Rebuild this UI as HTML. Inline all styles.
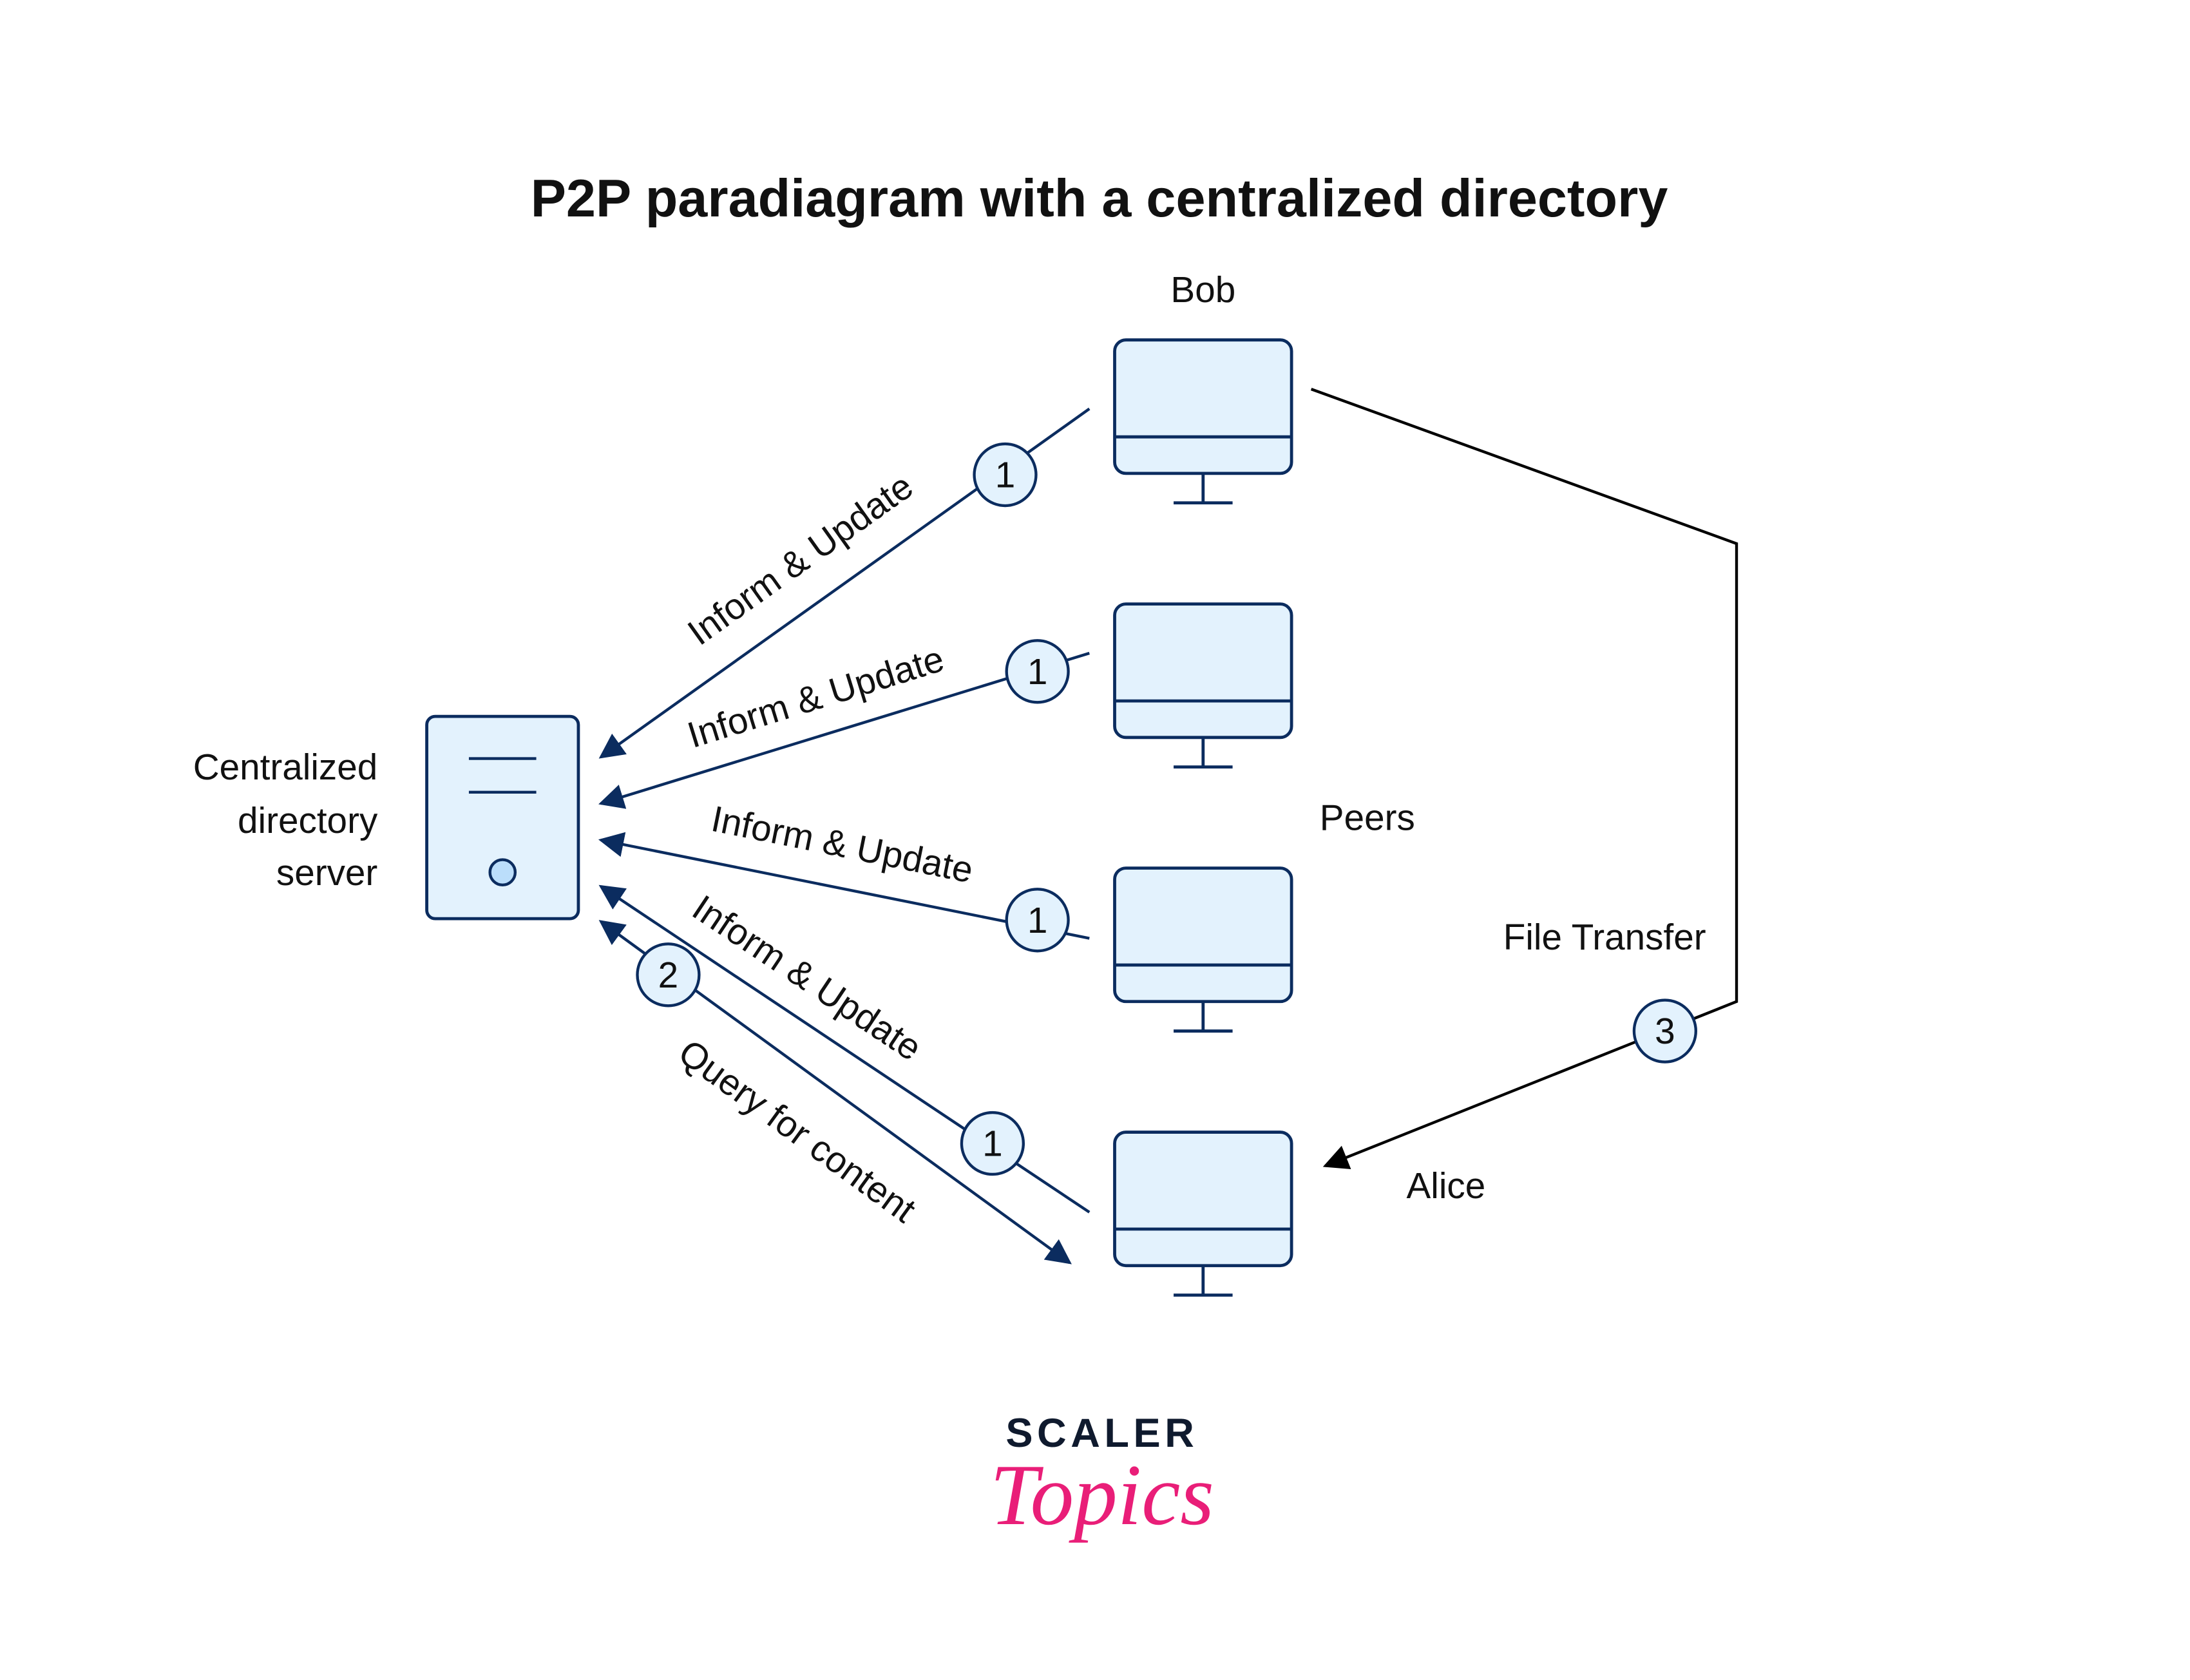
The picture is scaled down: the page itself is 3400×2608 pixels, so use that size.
<!DOCTYPE html>
<html><head><meta charset="utf-8"><style>
html,body{margin:0;padding:0;background:#fff;}
svg{display:block;}
text{font-family:"Liberation Sans",sans-serif;fill:#111;}
</style></head><body>
<svg width="3400" height="2608" viewBox="0 0 1560 1196" preserveAspectRatio="none" xmlns="http://www.w3.org/2000/svg">
<defs>
<marker id="a" viewBox="0 0 10 10" refX="9" refY="5" markerWidth="7" markerHeight="7" orient="auto-start-reverse" markerUnits="userSpaceOnUse" >
<path d="M0,0 L10,5 L0,10 z" fill="#0b2c5f"/></marker>
<marker id="ab" viewBox="0 0 10 10" refX="9" refY="5" markerWidth="18" markerHeight="18" orient="auto" markerUnits="userSpaceOnUse"><path d="M0,0 L10,5 L0,10 z" fill="#000"/></marker>
<marker id="an" viewBox="0 0 10 10" refX="9" refY="5" markerWidth="18" markerHeight="18" orient="auto-start-reverse" markerUnits="userSpaceOnUse"><path d="M0,0 L10,5 L0,10 z" fill="#0b2c5f"/></marker>
<g id="mon">
<rect x="794" y="0" width="126" height="95" rx="8" fill="#e3f2fd" stroke="#0b2c5f" stroke-width="2.2"/>
<line x1="794" y1="69" x2="920" y2="69" stroke="#0b2c5f" stroke-width="2.2"/>
<line x1="857" y1="95" x2="857" y2="116" stroke="#0b2c5f" stroke-width="2.2"/>
<line x1="836" y1="116" x2="878" y2="116" stroke="#0b2c5f" stroke-width="2.2"/>
</g>
</defs>
<text x="783" y="154" font-size="38" font-weight="bold" text-anchor="middle">P2P paradiagram with a centralized directory</text>
<text x="857" y="215" font-size="26" text-anchor="middle">Bob</text>
<text x="974" y="591" font-size="26" text-anchor="middle">Peers</text>
<text x="1143" y="676" font-size="26" text-anchor="middle">File Transfer</text>
<text x="1030" y="853" font-size="26" text-anchor="middle">Alice</text>
<text x="269" y="555" font-size="26" text-anchor="end">Centralized</text>
<text x="269" y="593" font-size="26" text-anchor="end">directory</text>
<text x="269" y="630" font-size="26" text-anchor="end">server</text>

<use href="#mon" y="242"/><use href="#mon" y="430"/><use href="#mon" y="618"/><use href="#mon" y="806"/>

<rect x="304" y="510" width="108" height="144" rx="6" fill="#e3f2fd" stroke="#0b2c5f" stroke-width="2.2"/>
<line x1="334" y1="540" x2="382" y2="540" stroke="#0b2c5f" stroke-width="2"/>
<line x1="334" y1="564" x2="382" y2="564" stroke="#0b2c5f" stroke-width="2"/>
<circle cx="358" cy="621" r="9" fill="#bbdefb" stroke="#0b2c5f" stroke-width="2"/>

<g stroke="#0b2c5f" stroke-width="2" fill="none">
<line x1="776" y1="291" x2="428" y2="539" marker-end="url(#an)"/>
<line x1="776" y1="465" x2="428" y2="572" marker-end="url(#an)"/>
<line x1="776" y1="668" x2="428" y2="598" marker-end="url(#an)"/>
<line x1="776" y1="863" x2="428" y2="631" marker-end="url(#an)"/>
<line x1="428" y1="656" x2="762" y2="899" marker-start="url(#an)" marker-end="url(#an)"/>
</g>
<polyline points="934,277 1237,387 1237,713 944,830" fill="none" stroke="#000" stroke-width="2" marker-end="url(#ab)"/>

<g font-size="26" text-anchor="middle">
<circle cx="716" cy="338" r="22" fill="#e3f2fd" stroke="#0b2c5f" stroke-width="2"/><text x="716" y="347">1</text>
<circle cx="739" cy="478" r="22" fill="#e3f2fd" stroke="#0b2c5f" stroke-width="2"/><text x="739" y="487">1</text>
<circle cx="739" cy="655" r="22" fill="#e3f2fd" stroke="#0b2c5f" stroke-width="2"/><text x="739" y="664">1</text>
<circle cx="707" cy="814" r="22" fill="#e3f2fd" stroke="#0b2c5f" stroke-width="2"/><text x="707" y="823">1</text>
<circle cx="476" cy="694" r="22" fill="#e3f2fd" stroke="#0b2c5f" stroke-width="2"/><text x="476" y="703">2</text>
<circle cx="1186" cy="734" r="22" fill="#e3f2fd" stroke="#0b2c5f" stroke-width="2"/><text x="1186" y="743">3</text>

<text transform="translate(570,398) rotate(-35.5)" y="9">Inform &amp; Update</text>
<text transform="translate(581,496) rotate(-17.2)" y="9">Inform &amp; Update</text>
<text transform="translate(600,601) rotate(11.4)" y="9">Inform &amp; Update</text>
<text transform="translate(575,696) rotate(33.7)" y="9">Inform &amp; Update</text>
<text transform="translate(568,805) rotate(36)" y="9">Query for content</text>
</g>

<text x="785" y="1030" font-size="29" font-weight="bold" text-anchor="middle" letter-spacing="3" style="fill:#0f1a2e">SCALER</text>
<text x="785" y="1085" font-size="62" font-style="italic" text-anchor="middle" style="fill:#e91e78;font-family:'Liberation Serif',serif">Topics</text>
</svg>
</body></html>
